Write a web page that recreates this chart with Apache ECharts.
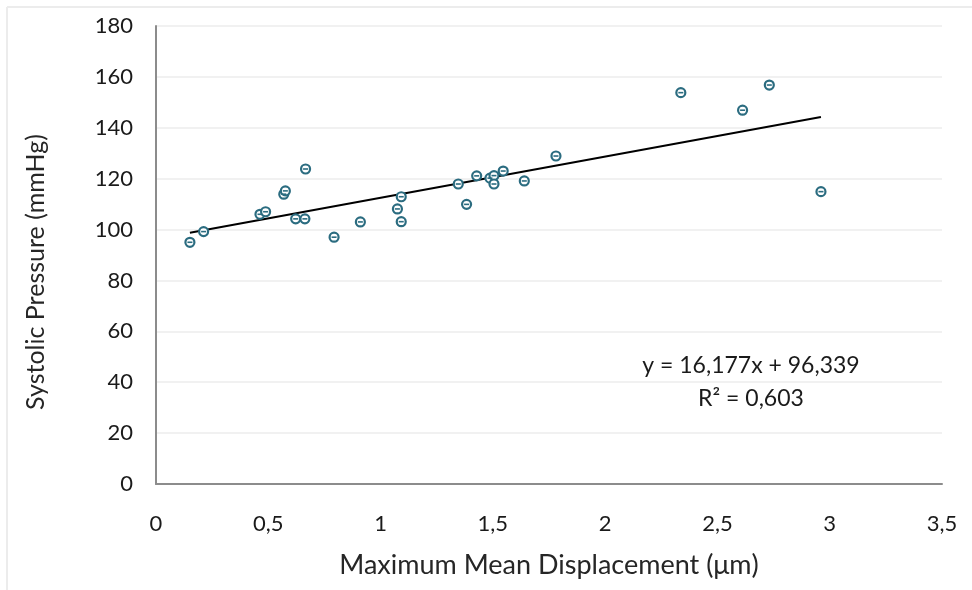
<!DOCTYPE html>
<html>
<head>
<meta charset="utf-8">
<script src="https://cdn.jsdelivr.net/npm/echarts@6/dist/echarts.min.js"></script>
<style>
  html, body { margin: 0; padding: 0; background: #ffffff; }
  #chart { width: 972px; height: 590px; }
</style>
</head>
<body>
<div id="chart"></div>
<script>
// Maximum mean displacement (µm) per subject
const displacement = [
  0.151, 0.212, 0.463, 0.488, 0.569, 0.576, 0.622, 0.663, 0.666,
  0.793, 0.910, 1.075, 1.092, 1.092,
  1.346, 1.383, 1.428, 1.487, 1.505, 1.505, 1.546, 1.640, 1.781,
  2.337, 2.612, 2.731, 2.961
];
// Systolic pressure (mmHg) per subject
const systolic = [
  95.0, 99.2, 106.0, 107.0, 113.9, 115.2, 104.2, 104.2, 123.8,
  97.0, 103.0, 108.1, 112.9, 103.1,
  117.9, 109.9, 121.1, 120.2, 121.2, 117.9, 123.0, 119.1, 128.9,
  153.8, 146.9, 156.8, 114.9
];
// Linear fit as printed on the chart
const slope = 16.177;
const intercept = 96.339;
const rSquared = 0.603;

const xTicks = [0, 0.5, 1, 1.5, 2, 2.5, 3, 3.5];
const yTicks = [0, 20, 40, 60, 80, 100, 120, 140, 160, 180];

const xTitle = 'Maximum Mean Displacement (μm)';
const yTitle = 'Systolic Pressure (mmHg)';

const points = displacement.map((x, i) => [x, systolic[i]]);
const xMin = Math.min(...displacement);
const xMax = Math.max(...displacement);
const trend = [[xMin, slope * xMin + intercept], [xMax, slope * xMax + intercept]];

const comma = v => String(v).replace('.', ',');
const FONT = 'Lato';
const MARK = '#2b6c80';

const chart = echarts.init(document.getElementById('chart'), null, { renderer: 'canvas' });
chart.setOption({
  animation: false,
  backgroundColor: '#ffffff',
  textStyle: { fontFamily: FONT },
  grid: { left: 156, right: 30, top: 26, bottom: 106, containLabel: false },
  xAxis: {
    type: 'value',
    min: xTicks[0], max: xTicks[xTicks.length - 1], interval: 0.5,
    name: xTitle,
    nameLocation: 'middle', nameGap: 68,
    nameTextStyle: { fontFamily: FONT, fontSize: 27, color: '#262626' },
    axisLine: { show: true, lineStyle: { color: '#8c8c8c', width: 2 } },
    axisTick: { show: false },
    splitLine: { show: false },
    axisLabel: { margin: 29, fontFamily: FONT, fontSize: 22, color: '#1a1a1a', formatter: comma }
  },
  yAxis: {
    type: 'value',
    min: yTicks[0], max: yTicks[yTicks.length - 1], interval: 20,
    axisLine: { show: true, lineStyle: { color: '#8c8c8c', width: 2 } },
    axisTick: { show: false },
    splitLine: { show: true, lineStyle: { color: '#ededed', width: 1.5 } },
    axisLabel: { margin: 23, fontFamily: FONT, fontSize: 22, color: '#1a1a1a', formatter: comma }
  },
  graphic: [
    { type: 'line', silent: true, shape: { x1: 7, y1: 7, x2: 972, y2: 7 }, style: { stroke: '#ececec', lineWidth: 2 } },
    { type: 'line', silent: true, shape: { x1: 7, y1: 7, x2: 7, y2: 590 }, style: { stroke: '#ececec', lineWidth: 2 } },
    // vertical axis title, sitting a little below the plot's mid-height
    {
      type: 'text', silent: true, x: 36, y: 272, rotation: Math.PI / 2,
      style: {
        text: yTitle, font: '25px ' + FONT, fill: '#262626',
        textAlign: 'center', textVerticalAlign: 'middle'
      }
    },
    {
      type: 'text', silent: true,
      style: {
        x: 751, y: 366, text: 'y = ' + comma(slope) + 'x + ' + comma(intercept),
        font: '23px ' + FONT, fill: '#1a1a1a', textAlign: 'center', textVerticalAlign: 'middle'
      }
    },
    {
      type: 'text', silent: true,
      style: {
        x: 751, y: 399, text: 'R² = ' + comma(rSquared),
        font: '23px ' + FONT, fill: '#1a1a1a', textAlign: 'center', textVerticalAlign: 'middle'
      }
    }
  ],
  series: [
    {
      type: 'line', data: trend, symbol: 'none', silent: true, z: 3,
      lineStyle: { color: '#000000', width: 2 }
    },
    {
      type: 'scatter', data: points, symbol: 'circle', symbolSize: 9, z: 4,
      itemStyle: { color: '#ffffff', borderColor: MARK, borderWidth: 2.2, opacity: 1 }
    },
    {
      type: 'scatter', data: points, symbol: 'rect', symbolSize: [5, 1.6], z: 5, silent: true,
      itemStyle: { color: MARK, opacity: 1 }
    }
  ]
});
</script>
</body>
</html>
